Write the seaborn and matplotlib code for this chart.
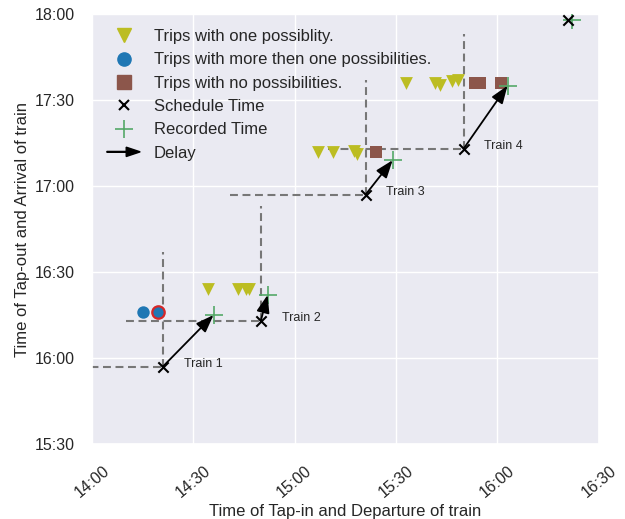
import matplotlib
matplotlib.use("Agg")
import matplotlib.pyplot as plt
import matplotlib.patches as mpatches
from matplotlib.lines import Line2D
from matplotlib.legend_handler import HandlerPatch
from matplotlib.ticker import FixedLocator, FuncFormatter
import pandas as pd
import seaborn as sns

# --- trips (tap-in time, tap-out time) ---
one_in = ["14:34:20", "14:43:10", "14:45:30", "14:46:30",
          "15:07:00", "15:11:20", "15:17:30", "15:18:30",
          "15:33:00", "15:41:30", "15:43:00", "15:46:30", "15:48:20"]
one_out = ["16:24:00", "16:24:00", "16:24:00", "16:24:00",
           "17:12:00", "17:12:00", "17:12:20", "17:11:20",
           "17:36:00", "17:36:00", "17:35:15", "17:36:30", "17:37:00"]

multi_in = ["14:15:00", "14:19:30"]
multi_out = ["16:16:00", "16:16:00"]
multi_flagged = [False, True]

none_in = ["15:24:00", "15:53:30", "15:55:00", "16:01:00"]
none_out = ["17:12:00", "17:36:00", "17:36:00", "17:36:00"]

# --- trains: scheduled and recorded departure / arrival ---
train_names = ["Train 1", "Train 2", "Train 3", "Train 4", ""]
sched_dep = ["14:21:00", "14:50:00", "15:21:00", "15:50:00", "16:21:00"]
sched_arr = ["15:57:00", "16:13:00", "16:57:00", "17:13:00", "17:58:00"]
rec_dep = ["14:36:00", "14:52:00", "15:29:00", "16:03:00", "16:22:00"]
rec_arr = ["16:15:00", "16:22:00", "17:09:00", "17:35:00", "17:58:00"]

tick_labels = ["14:00", "14:30", "15:00", "15:30", "16:00", "16:30"]
ytick_labels = ["15:30", "16:00", "16:30", "17:00", "17:30", "18:00"]


def minutes(t):
    parts = [float(p) for p in t.split(":")]
    while len(parts) < 3:
        parts.append(0.0)
    return parts[0] * 60 + parts[1] + parts[2] / 60


def to_min(seq):
    return [minutes(t) for t in seq]


def fmt(v, _pos=None):
    v = int(round(v))
    return f"{v // 60:02d}:{v % 60:02d}"


sns.set_theme(style="darkgrid")
plt.rcParams["font.family"] = ["Liberation Sans", "DejaVu Sans"]

fig = plt.figure(figsize=(6.25, 5.19), dpi=100)
ax = fig.add_axes([0.147, 0.1445, 0.811, 0.8285])

C_ONE = "#bcbd22"
C_MULTI = "#1f77b4"
C_NONE = "#8c564b"
C_REC = "#55a868"

trips = pd.DataFrame({
    "tap_in": to_min(one_in) + to_min(multi_in) + to_min(none_in),
    "tap_out": to_min(one_out) + to_min(multi_out) + to_min(none_out),
    "kind": ["one"] * len(one_in) + ["multi"] * len(multi_in) + ["none"] * len(none_in),
    "flag": [False] * len(one_in) + multi_flagged + [False] * len(none_in),
})
trains = pd.DataFrame({
    "name": train_names,
    "sd": to_min(sched_dep), "sa": to_min(sched_arr),
    "rd": to_min(rec_dep), "ra": to_min(rec_arr),
})

# guide lines from each scheduled point (40 min long)
guide = 40
for _, r in trains.iloc[:4].iterrows():
    ax.plot([r.sd - guide, r.sd], [r.sa, r.sa], ls="--", color="#777777",
            lw=1.5, dashes=(3.8, 2.2), zorder=2)
    ax.plot([r.sd, r.sd], [r.sa, r.sa + guide], ls="--", color="#777777",
            lw=1.5, dashes=(3.8, 2.2), zorder=2)

sns.scatterplot(data=trips[trips.kind == "one"], x="tap_in", y="tap_out",
                marker="v", color=C_ONE, s=85, linewidth=0, ax=ax, zorder=3)
multi = trips[trips.kind == "multi"]
sns.scatterplot(data=multi[~multi.flag], x="tap_in", y="tap_out", marker="o",
                color=C_MULTI, s=80, linewidth=0, ax=ax, zorder=3)
sns.scatterplot(data=multi[multi.flag], x="tap_in", y="tap_out", marker="o",
                color=C_MULTI, s=80, linewidth=1.6, edgecolor="#d62728",
                ax=ax, zorder=3)
sns.scatterplot(data=trips[trips.kind == "none"], x="tap_in", y="tap_out",
                marker="s", color=C_NONE, s=85, linewidth=0, ax=ax, zorder=3)

ax.scatter(trains.sd, trains.sa, marker="x", color="black", s=55, lw=1.5, zorder=5)
ax.scatter(trains.rd, trains.ra, marker="+", color=C_REC, s=170, lw=1.2, zorder=4)

for _, r in trains.iloc[:4].iterrows():
    ax.annotate("", xy=(r.rd, r.ra), xytext=(r.sd, r.sa),
                arrowprops=dict(arrowstyle="-|>,head_length=0.6,head_width=0.22",
                                color="black", lw=1.3, mutation_scale=18,
                                shrinkA=0, shrinkB=0),
                zorder=6)
    ax.annotate(r["name"], xy=(r.sd, r.sa), xytext=(15, 2),
                textcoords="offset points", fontsize=9, color="#262626",
                va="center", ha="left")

ax.set_xlim(minutes(tick_labels[0]), minutes(tick_labels[-1]))
ax.set_ylim(minutes(ytick_labels[0]), minutes(ytick_labels[-1]))
ax.xaxis.set_major_locator(FixedLocator(to_min(tick_labels)))
ax.yaxis.set_major_locator(FixedLocator(to_min(ytick_labels)))
ax.xaxis.set_major_formatter(FuncFormatter(fmt))
ax.yaxis.set_major_formatter(FuncFormatter(fmt))
plt.setp(ax.get_xticklabels(), rotation=40, ha="center")
ax.tick_params(labelsize=11.5)
ax.tick_params(axis="y", pad=6.5)
ax.tick_params(axis="x", pad=7.5)
ax.set_xlabel("Time of Tap-in and Departure of train", fontsize=12, labelpad=3)
ax.set_ylabel("Time of Tap-out and Arrival of train", fontsize=12, labelpad=3)


def arrow_handle(legend, orig_handle, xdescent, ydescent, width, height, fontsize):
    return mpatches.FancyArrow(-xdescent, height / 2 - ydescent, width, 0,
                               length_includes_head=True, width=0.6,
                               head_width=height * 0.8, head_length=width * 0.42,
                               color="black")


handles = [
    Line2D([], [], ls="", marker="v", color=C_ONE, markersize=9.5),
    Line2D([], [], ls="", marker="o", color=C_MULTI, markersize=9.5),
    Line2D([], [], ls="", marker="s", color=C_NONE, markersize=9.5),
    Line2D([], [], ls="", marker="x", color="black", markersize=7, mew=1.5),
    Line2D([], [], ls="", marker="+", color=C_REC, markersize=13, mew=1.2),
    mpatches.FancyArrow(0, 0, 1, 0, color="black"),
]
labels = ["Trips with one possiblity.", "Trips with more then one possibilities.",
          "Trips with no possibilities.", "Schedule Time", "Recorded Time", "Delay"]
ax.legend(handles, labels, loc="upper left", frameon=False, fontsize=12,
          handler_map={mpatches.FancyArrow: HandlerPatch(patch_func=arrow_handle)},
          labelspacing=0.5)

fig.savefig("out.png", dpi=100)
